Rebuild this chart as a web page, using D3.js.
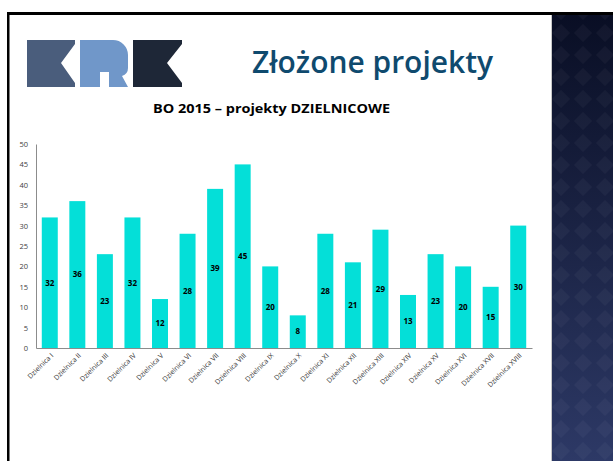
<!DOCTYPE html>
<html>
<head>
<meta charset="utf-8">
<script src="https://cdn.jsdelivr.net/npm/d3@7"></script>
<style>
  body { margin: 0; background: #fff; }
  svg { display: block; }
</style>
</head>
<body>
<div id="chart"></div>
<script>
// data
var districts = ["Dzielnica I", "Dzielnica II", "Dzielnica III", "Dzielnica IV", "Dzielnica V",
  "Dzielnica VI", "Dzielnica VII", "Dzielnica VIII", "Dzielnica IX", "Dzielnica X",
  "Dzielnica XI", "Dzielnica XII", "Dzielnica XIII", "Dzielnica XIV", "Dzielnica XV",
  "Dzielnica XVI", "Dzielnica XVII", "Dzielnica XVIII"];
var projects = [32, 36, 23, 32, 12, 28, 39, 45, 20, 8, 28, 21, 29, 13, 23, 20, 15, 30];
var yTicks = [0, 5, 10, 15, 20, 25, 30, 35, 40, 45, 50];

var svgWidth = 613;
var svgHeight = 461;

var svg = d3.select("#chart")
  .append("svg")
  .attr("width", svgWidth)
  .attr("height", svgHeight);

// slide frame
var defs = svg.append("defs");
var grad = defs.append("linearGradient")
  .attr("id", "panelGrad")
  .attr("x1", 0).attr("y1", 0).attr("x2", 0).attr("y2", 1);
grad.append("stop").attr("offset", "0%").attr("stop-color", "#090e24");
grad.append("stop").attr("offset", "100%").attr("stop-color", "#2d3966");

var pat = defs.append("pattern")
  .attr("id", "diamonds")
  .attr("width", 22).attr("height", 22)
  .attr("patternUnits", "userSpaceOnUse");
pat.append("path")
  .attr("d", "M11,2 L20,11 L11,20 L2,11 Z")
  .attr("fill", "#ffffff")
  .attr("opacity", 0.035);

svg.append("rect")
  .attr("x", 551).attr("y", 13)
  .attr("width", 62).attr("height", 448)
  .attr("fill", "url(#panelGrad)");
svg.append("rect")
  .attr("x", 551).attr("y", 13)
  .attr("width", 62).attr("height", 448)
  .attr("fill", "url(#diamonds)");
svg.append("line")
  .attr("x1", 551.5).attr("x2", 551.5)
  .attr("y1", 14).attr("y2", 461)
  .attr("stroke", "#c8c8c8").attr("stroke-width", 1);

svg.append("rect")
  .attr("x", 7).attr("y", 12)
  .attr("width", 606).attr("height", 3)
  .attr("fill", "#000");
svg.append("rect")
  .attr("x", 7).attr("y", 12)
  .attr("width", 2.5).attr("height", 449)
  .attr("fill", "#000");

// logo
var logo = svg.append("g");
logo.append("path")
  .attr("d", "M27,40 L75,40 L75,44 L61,63 L75,83 L75,87 L27,87 Z")
  .attr("fill", "#4a5d7c");
logo.append("path")
  .attr("d", "M80,40 L113,40 A15,15 0 0 1 128,55 L128,68 Q128,74 122,76 L128,87 L109,87 L109,72 L100,72 L100,87 L80,87 Z")
  .attr("fill", "#7097c9");
logo.append("path")
  .attr("d", "M133,40 L182,40 L182,44 L167,63 L182,83 L182,87 L133,87 Z")
  .attr("fill", "#1e2737");

svg.append("text")
  .attr("x", 252)
  .attr("y", 73)
  .attr("textLength", 241)
  .attr("lengthAdjust", "spacingAndGlyphs")
  .style("font-family", "Open Sans")
  .style("font-weight", "600")
  .style("font-size", "31px")
  .style("fill", "#0f4a6e")
  .text("Złożone projekty");

svg.append("text")
  .attr("x", 153)
  .attr("y", 113)
  .attr("textLength", 237)
  .attr("lengthAdjust", "spacingAndGlyphs")
  .style("font-family", "Open Sans")
  .style("font-weight", "bold")
  .style("font-size", "12px")
  .style("fill", "#000")
  .text("BO 2015 – projekty DZIELNICOWE");

// chart
var plotLeft = 36, plotRight = 532, plotTop = 144, plotBottom = 348;

var xScale = d3.scaleBand()
  .domain(districts)
  .range([plotLeft, plotRight])
  .paddingInner(0.42)
  .paddingOuter(0.21);

var yScale = d3.scaleLinear()
  .domain([0, 50])
  .range([plotBottom, plotTop]);

var chartGroup = svg.append("g");

chartGroup.selectAll(".bar")
  .data(projects)
  .enter()
  .append("rect")
  .attr("class", "bar")
  .attr("x", (d, i) => xScale(districts[i]))
  .attr("y", d => yScale(d))
  .attr("width", xScale.bandwidth())
  .attr("height", d => yScale(0) - yScale(d))
  .attr("fill", "#04dfd8");

chartGroup.selectAll(".val")
  .data(projects)
  .enter()
  .append("text")
  .attr("class", "val")
  .attr("x", (d, i) => xScale(districts[i]) + xScale.bandwidth() / 2)
  .attr("y", d => (yScale(d) + yScale(0)) / 2)
  .attr("dy", "0.35em")
  .style("font-family", "Open Sans")
  .style("font-weight", "bold")
  .style("font-size", "8px")
  .style("text-anchor", "middle")
  .style("fill", "#000")
  .text(d => d);

var yAxis = d3.axisLeft(yScale).tickValues(yTicks).tickSize(0).tickPadding(8);
var yG = chartGroup.append("g")
  .attr("transform", `translate(${plotLeft},0)`)
  .call(yAxis);
yG.select(".domain").attr("stroke", "#8c8c8c");
yG.selectAll("text")
  .style("font-family", "Open Sans")
  .style("font-size", "7.5px")
  .style("fill", "#404040");

var xAxis = d3.axisBottom(xScale).tickSize(0).tickFormat("");
var xG = chartGroup.append("g")
  .attr("transform", `translate(0,${plotBottom})`)
  .call(xAxis);
xG.select(".domain").attr("stroke", "#8c8c8c");

chartGroup.selectAll(".xlab")
  .data(districts)
  .enter()
  .append("text")
  .attr("class", "xlab")
  .attr("transform", d => `translate(${xScale(d) + xScale.bandwidth() / 2 + 4},${plotBottom + 8}) rotate(-45)`)
  .style("font-family", "Open Sans")
  .style("font-size", "7px")
  .style("text-anchor", "end")
  .style("fill", "#333")
  .text(d => d);
</script>
</body>
</html>
